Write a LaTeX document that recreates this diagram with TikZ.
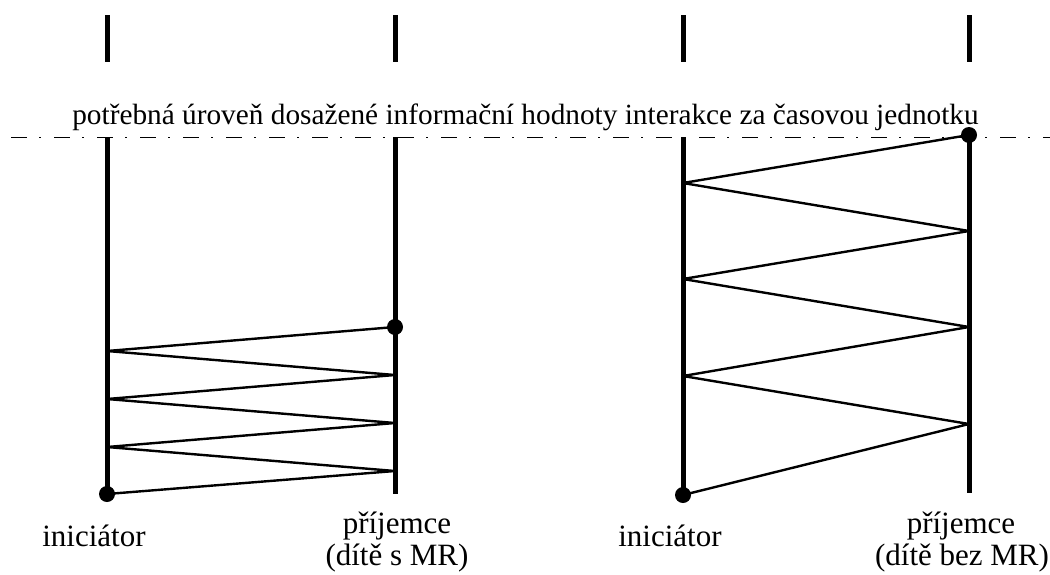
\documentclass[tikz,border=0pt]{standalone}
\usepackage{fontspec}
\setmainfont{Liberation Serif}
\begin{document}
\begin{tikzpicture}[x=1pt,y=-1pt,
  lifeline/.style={line width=5pt},
  signal/.style={line width=2.4pt,line join=round},
  endpoint/.style={circle,fill=black,inner sep=0pt,minimum size=16pt},
  label/.style={anchor=base,inner sep=0pt,font=\fontsize{31}{34}\selectfont},
  level/.style={line width=1.5pt,dash pattern=on 16pt off 12pt on 2pt off 13pt,dash phase=32pt}]
\useasboundingbox (0,0) rectangle (1050,574);

% ---- lifelines ----
\coordinate (aTop) at (107,15);
\coordinate (bTop) at (395,15);
\coordinate (bBot) at (395,494);
\coordinate (cTop) at (683,15);
\coordinate (dTop) at (969,15);
\coordinate (dBot) at (969,493);
\coordinate (aStart) at (107,494);
\coordinate (bEnd) at (395,327);
\coordinate (cStart) at (683,495);
\coordinate (dEnd) at (969,135);
\draw[lifeline] (aTop) -- (aStart);
\draw[lifeline] (bTop) -- (bBot);
\draw[lifeline] (cTop) -- (cStart);
\draw[lifeline] (dTop) -- (dBot);

% required level of interaction per time unit (its white box interrupts the lifelines)
\node[label,font=\fontsize{29.3}{32}\selectfont,fill=white,inner xsep=4pt,inner ysep=0pt,
      text height=62pt,text depth=12.5pt] (leveltext) at (525.5,124)
  {potřebná úroveň dosažené informační hodnoty interakce za časovou jednotku};
\coordinate (levelL) at (0,137.5);
\coordinate (levelR) at (1050,137.5);
\draw[level] (levelL) -- (levelR);

% ---- left: child with MR ----
\coordinate (b1) at (395,471);
\coordinate (a1) at (107,447);
\coordinate (b2) at (395,423);
\coordinate (a2) at (107,399);
\coordinate (b3) at (395,375);
\coordinate (a3) at (107,351);
\draw[signal] (aStart) -- (b1) -- (a1) -- (b2) -- (a2) -- (b3) -- (a3) -- (bEnd);
\node[endpoint] (aDot) at (aStart) {};
\node[endpoint] (bDot) at (bEnd) {};

\node[label] (aLabel) at (94,546) {iniciátor};
\node[label] (bLabel1) at (397,533) {příjemce};
\node[label] (bLabel2) at (397,565) {(dítě s MR)};

% ---- right: child without MR ----
\coordinate (d1) at (969,424);
\coordinate (c1) at (683,376);
\coordinate (d2) at (969,327);
\coordinate (c2) at (683,279);
\coordinate (d3) at (969,231);
\coordinate (c3) at (683,183);
\draw[signal] (cStart) -- (d1) -- (c1) -- (d2) -- (c2) -- (d3) -- (c3) -- (dEnd);
\node[endpoint] (cDot) at (cStart) {};
\node[endpoint] (dDot) at (dEnd) {};

\node[label] (cLabel) at (670,546) {iniciátor};
\node[label] (dLabel1) at (961,533) {příjemce};
\node[label] (dLabel2) at (962,565) {(dítě bez MR)};
\end{tikzpicture}
\end{document}
